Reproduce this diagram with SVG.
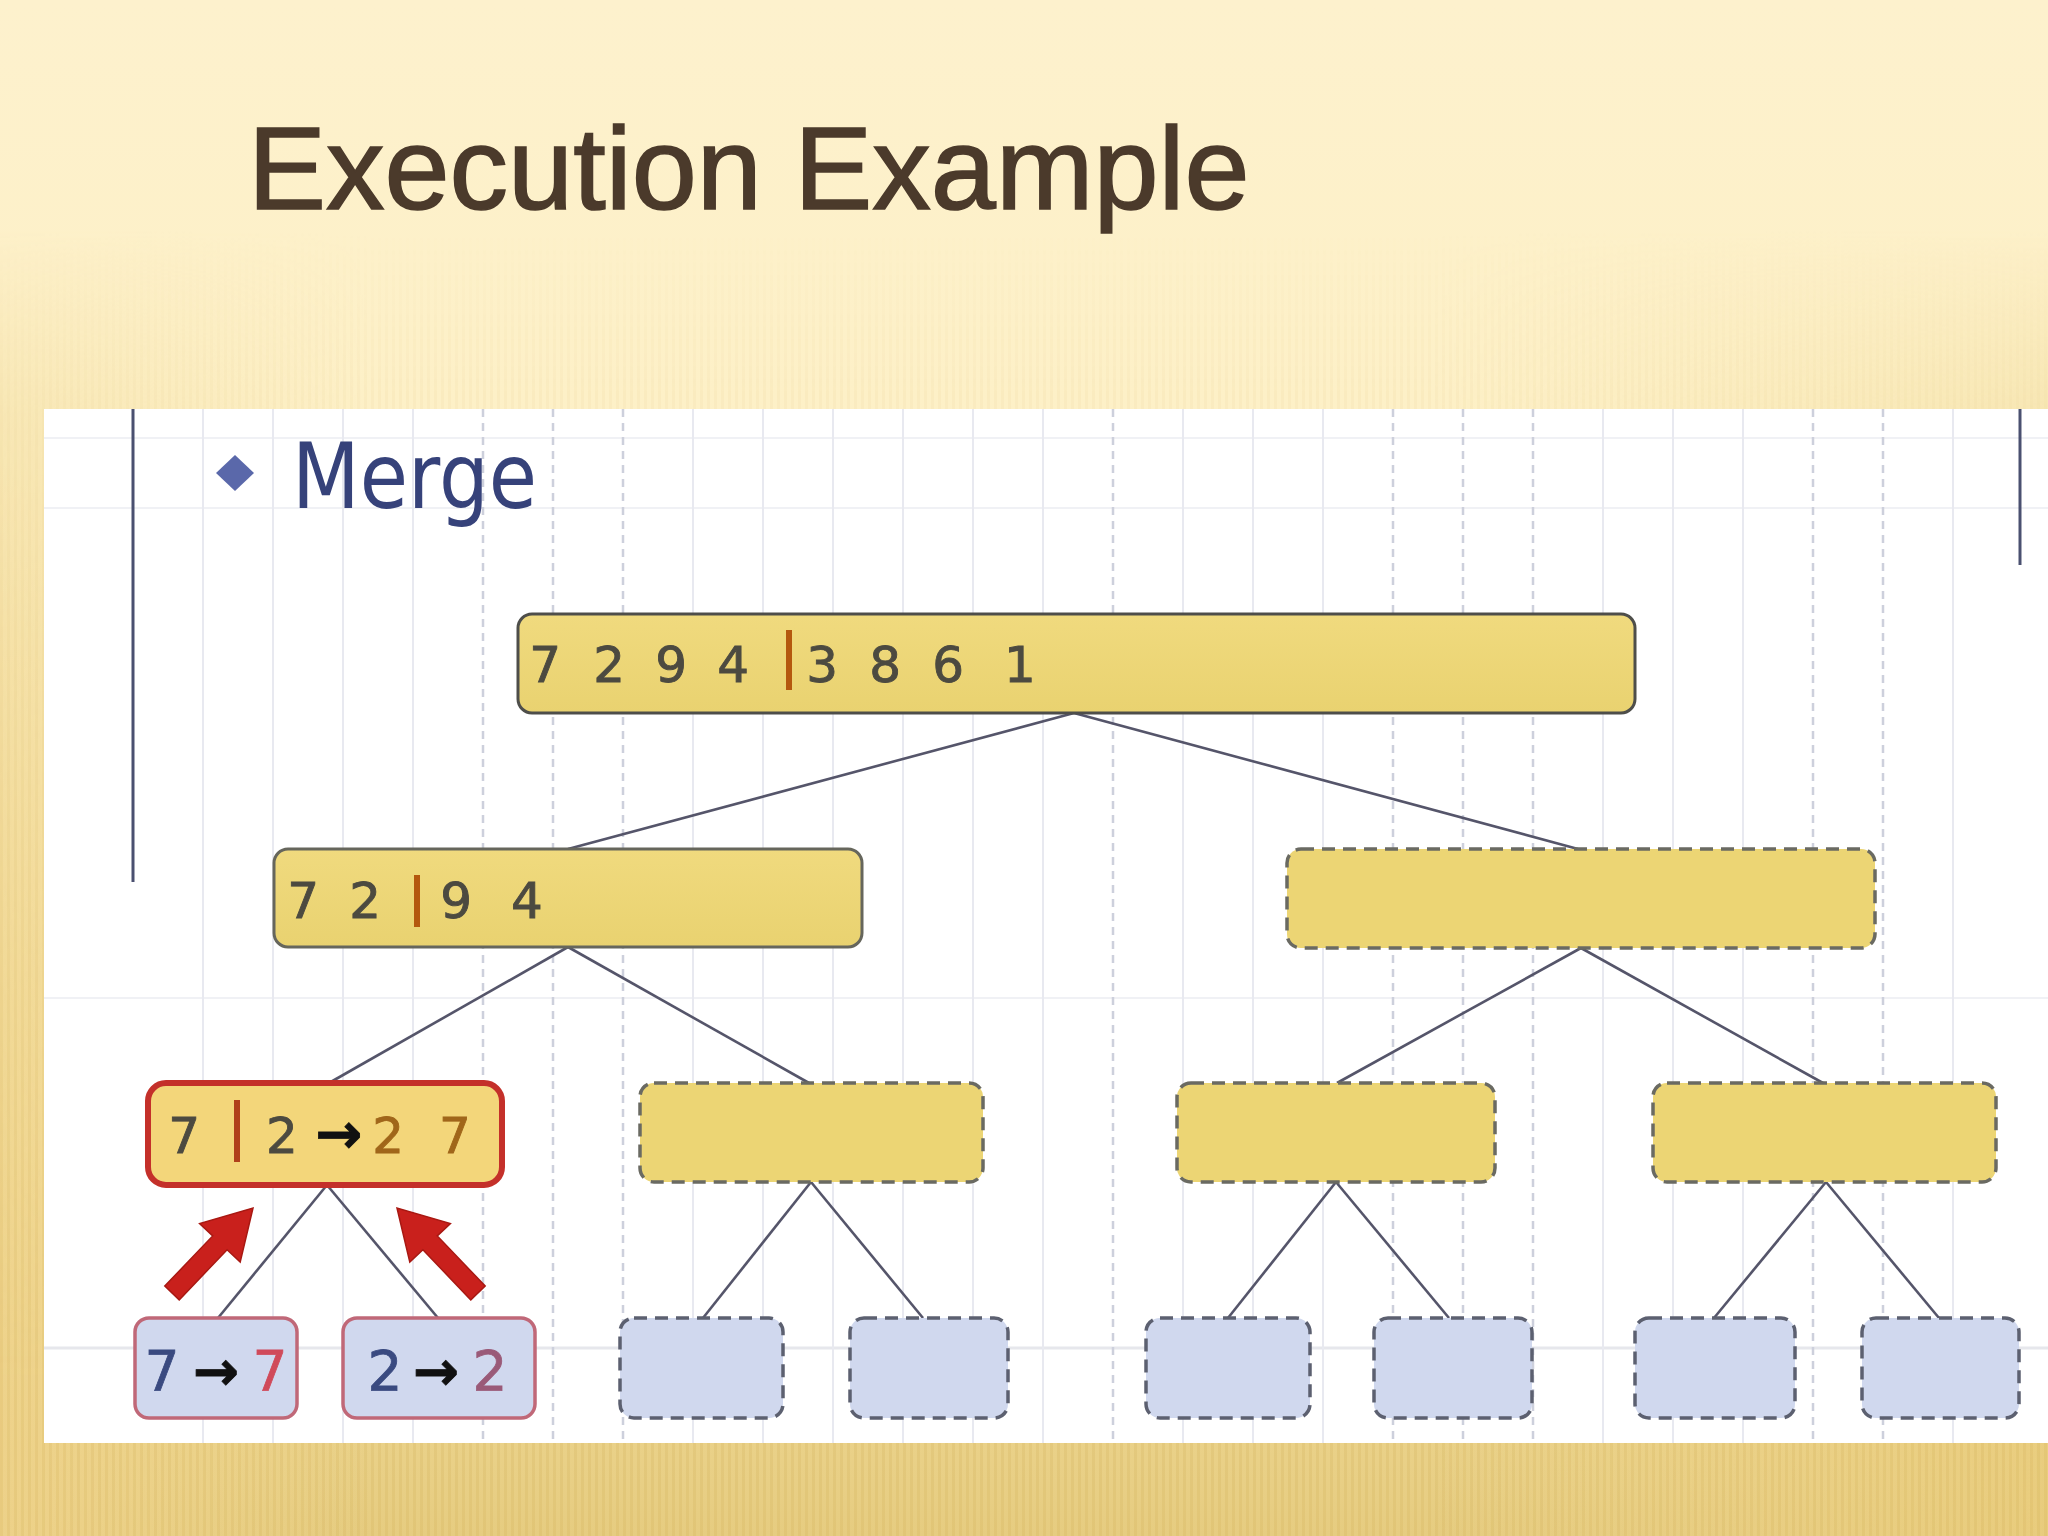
<svg xmlns="http://www.w3.org/2000/svg" width="2048" height="1536" viewBox="0 0 2048 1536">
<defs>
<linearGradient id="bg" x1="0" y1="0" x2="0" y2="1536" gradientUnits="userSpaceOnUse">
<stop offset="0" stop-color="#fdf1cd"/>
<stop offset="0.3" stop-color="#fdf0c6"/>
<stop offset="0.75" stop-color="#f5e1a2"/>
<stop offset="1" stop-color="#e6cc80"/>
</linearGradient>
<linearGradient id="side" x1="0" y1="0" x2="2048" y2="0" gradientUnits="userSpaceOnUse">
<stop offset="0" stop-color="#eed28a" stop-opacity="0.85"/>
<stop offset="0.18" stop-color="#f0d68e" stop-opacity="0"/>
<stop offset="0.7" stop-color="#f0d68e" stop-opacity="0"/>
<stop offset="1" stop-color="#e9cc7c" stop-opacity="0.75"/>
</linearGradient>
<linearGradient id="fadeV" x1="0" y1="0" x2="0" y2="1536" gradientUnits="userSpaceOnUse">
<stop offset="0.15" stop-color="#fff" stop-opacity="0"/>
<stop offset="0.27" stop-color="#fff" stop-opacity="0.35"/>
<stop offset="0.9" stop-color="#fff" stop-opacity="1"/>
</linearGradient>
<mask id="stripeMask" maskUnits="userSpaceOnUse" x="0" y="0" width="2048" height="1536"><rect x="0" y="0" width="2048" height="1536" fill="url(#fadeV)"/></mask>
<pattern id="stripes" width="7" height="20" patternUnits="userSpaceOnUse">
<rect x="0" y="0" width="3" height="20" fill="#c9a445" fill-opacity="0.16"/>
</pattern>
<linearGradient id="yel" x1="0" y1="0" x2="0" y2="1">
<stop offset="0" stop-color="#f0da7e"/>
<stop offset="1" stop-color="#e9d270"/>
</linearGradient>
<style>
.title{font-family:"Liberation Sans",Arial,sans-serif;font-size:117px;fill:#4b3a2b;stroke:#4b3a2b;stroke-width:1.6px}
.merge{font-family:"DejaVu Sans","Liberation Sans",sans-serif;font-size:90px;fill:#36427a}
.num{font-family:"DejaVu Sans","Liberation Sans",sans-serif;font-size:50px;fill:#4c4a40;stroke:#4c4a40;stroke-width:0.9px;text-anchor:middle}
.leafnum{font-family:"DejaVu Sans","Liberation Sans",sans-serif;font-size:55px;text-anchor:middle;stroke-width:0.8px}
.arr{fill:#111;stroke:#111;font-weight:bold}
.gs{stroke:#e8e9f0;stroke-width:2}
.gd{stroke:#cdd0dc;stroke-width:2.5;stroke-dasharray:8 6}
.gh{stroke:#f0f1f5;stroke-width:2}
.solidY{fill:url(#yel);stroke:#66665c;stroke-width:3}
.dashY{fill:#ecd574;stroke:#6a6a62;stroke-width:3.5;stroke-dasharray:13 8}
.dashB{fill:#d0d8ee;stroke:#5c6070;stroke-width:3.5;stroke-dasharray:13 8}
.leafR{fill:#d0d8ee;stroke:#c06878;stroke-width:3.5}
.hot{fill:#f3d67a;stroke:#c4302a;stroke-width:6}
.bar{fill:#b4580e}
.conn{stroke:#55556a;stroke-width:2.6;fill:none}
.bigarrow{fill:#c9201c;stroke:#a81812;stroke-width:1.5}
</style>
</defs>

<!-- background -->
<rect x="0" y="0" width="2048" height="1536" fill="url(#bg)"/>
<g mask="url(#stripeMask)">
<rect x="0" y="0" width="2048" height="1536" fill="url(#side)"/>
<rect x="0" y="0" width="2048" height="1536" fill="url(#stripes)"/>
</g>

<text class="title" x="248" y="209">Execution Example</text>

<!-- white panel -->
<g id="panel">
<rect x="44" y="409" width="2004" height="1034" fill="#ffffff"/>
<g id="grid">
<line class="gh" x1="44" y1="438" x2="2048" y2="438"/>
<line class="gh" x1="44" y1="508" x2="2048" y2="508"/>
<line class="gh" x1="44" y1="998" x2="2048" y2="998"/>
<line class="gh" x1="44" y1="1348" x2="2048" y2="1348" style="stroke:#e6e7ec;stroke-width:3"/>
<line class="gs" x1="203" y1="409" x2="203" y2="1443"/>
<line class="gs" x1="273" y1="409" x2="273" y2="1443"/>
<line class="gs" x1="343" y1="409" x2="343" y2="1443"/>
<line class="gs" x1="413" y1="409" x2="413" y2="1443"/>
<line class="gd" x1="483" y1="409" x2="483" y2="1443"/>
<line class="gd" x1="553" y1="409" x2="553" y2="1443"/>
<line class="gd" x1="623" y1="409" x2="623" y2="1443"/>
<line class="gs" x1="693" y1="409" x2="693" y2="1443"/>
<line class="gs" x1="763" y1="409" x2="763" y2="1443"/>
<line class="gs" x1="833" y1="409" x2="833" y2="1443"/>
<line class="gs" x1="903" y1="409" x2="903" y2="1443"/>
<line class="gs" x1="973" y1="409" x2="973" y2="1443"/>
<line class="gs" x1="1043" y1="409" x2="1043" y2="1443"/>
<line class="gd" x1="1113" y1="409" x2="1113" y2="1443"/>
<line class="gs" x1="1183" y1="409" x2="1183" y2="1443"/>
<line class="gs" x1="1253" y1="409" x2="1253" y2="1443"/>
<line class="gs" x1="1323" y1="409" x2="1323" y2="1443"/>
<line class="gd" x1="1393" y1="409" x2="1393" y2="1443"/>
<line class="gd" x1="1463" y1="409" x2="1463" y2="1443"/>
<line class="gd" x1="1533" y1="409" x2="1533" y2="1443"/>
<line class="gs" x1="1603" y1="409" x2="1603" y2="1443"/>
<line class="gs" x1="1673" y1="409" x2="1673" y2="1443"/>
<line class="gs" x1="1743" y1="409" x2="1743" y2="1443"/>
<line class="gd" x1="1813" y1="409" x2="1813" y2="1443"/>
<line class="gd" x1="1883" y1="409" x2="1883" y2="1443"/>
<line class="gs" x1="1953" y1="409" x2="1953" y2="1443"/>
</g>
<line x1="133" y1="409" x2="133" y2="882" stroke="#4a5070" stroke-width="3"/>
<line x1="2020" y1="409" x2="2020" y2="565" stroke="#4a5070" stroke-width="3"/>
<polygon points="235,455 254,473 235,491 216,473" fill="#5a68aa"/>
<text class="merge" x="292" y="508" textLength="245" lengthAdjust="spacingAndGlyphs">Merge</text>
</g>

<!-- connectors -->
<g id="connectors">
<line class="conn" x1="1074" y1="713" x2="568" y2="849"/>
<line class="conn" x1="1074" y1="713" x2="1578" y2="849"/>
<line class="conn" x1="568" y1="947" x2="329" y2="1083"/>
<line class="conn" x1="568" y1="947" x2="809" y2="1083"/>
<line class="conn" x1="1581" y1="948" x2="1337" y2="1083"/>
<line class="conn" x1="1581" y1="948" x2="1823" y2="1083"/>
<line class="conn" x1="327" y1="1185" x2="218" y2="1318"/>
<line class="conn" x1="327" y1="1185" x2="438" y2="1318"/>
<line class="conn" x1="811" y1="1182" x2="703" y2="1318"/>
<line class="conn" x1="811" y1="1182" x2="923" y2="1318"/>
<line class="conn" x1="1336" y1="1182" x2="1228" y2="1318"/>
<line class="conn" x1="1336" y1="1182" x2="1449" y2="1318"/>
<line class="conn" x1="1826" y1="1182" x2="1714" y2="1318"/>
<line class="conn" x1="1826" y1="1182" x2="1939" y2="1318"/>
</g>

<!-- level 1 -->
<g id="n-root">
<rect class="solidY" x="518" y="614" width="1117" height="99" rx="14" style="stroke:#4e4e4a"/>
<rect class="bar" x="786" y="630" width="6" height="60"/>
<text class="num" y="682"><tspan x="553">7</tspan> <tspan x="617">2</tspan> <tspan x="679">9</tspan> <tspan x="741">4</tspan> <tspan x="830">3</tspan> <tspan x="893">8</tspan> <tspan x="956">6</tspan> <tspan x="1020">1</tspan></text>
</g>

<!-- level 2 -->
<g id="n-l">
<rect class="solidY" x="274" y="849" width="588" height="98" rx="14"/>
<rect class="bar" x="414" y="875" width="6" height="52"/>
<text class="num" y="918"><tspan x="311">7</tspan> <tspan x="373">2</tspan> <tspan x="464">9</tspan> <tspan x="527">4</tspan></text>
</g>
<g id="n-r">
<rect class="dashY" x="1287" y="849" width="588" height="99" rx="14"/>
</g>

<!-- level 3 -->
<g id="n-ll">
<rect class="hot" x="148" y="1083" width="354" height="102" rx="18"/>
<rect class="bar" x="234" y="1100" width="6" height="62" style="fill:#b0401a"/>
<text class="num" y="1153"><tspan x="192">7</tspan> <tspan x="282">2</tspan><tspan x="339" class="arr" style="font-size:56px">→</tspan><tspan x="396" style="fill:#a0661a;stroke:#a0661a">2</tspan> <tspan x="455" style="fill:#a0661a;stroke:#a0661a">7</tspan></text>
</g>
<g id="n-lr"><rect class="dashY" x="640" y="1083" width="343" height="99" rx="14"/></g>
<g id="n-rl"><rect class="dashY" x="1177" y="1083" width="318" height="99" rx="14"/></g>
<g id="n-rr"><rect class="dashY" x="1653" y="1083" width="343" height="99" rx="14"/></g>

<!-- level 4 -->
<g id="leaf1">
<rect class="leafR" x="135" y="1318" width="162" height="100" rx="14"/>
<text class="leafnum" y="1390"><tspan x="162" style="fill:#3a4a80;stroke:#3a4a80">7</tspan><tspan x="216" class="arr">→</tspan><tspan x="270" style="fill:#d04a5a;stroke:#d04a5a">7</tspan></text>
</g>
<g id="leaf2">
<rect class="leafR" x="343" y="1318" width="192" height="100" rx="14"/>
<text class="leafnum" y="1390"><tspan x="385" style="fill:#3a4a80;stroke:#3a4a80">2</tspan><tspan x="436" class="arr">→</tspan><tspan x="490" style="fill:#9a5a78;stroke:#9a5a78">2</tspan></text>
</g>
<g id="leaf3"><rect class="dashB" x="620" y="1318" width="163" height="100" rx="14"/></g>
<g id="leaf4"><rect class="dashB" x="850" y="1318" width="158" height="100" rx="14"/></g>
<g id="leaf5"><rect class="dashB" x="1146" y="1318" width="164" height="100" rx="14"/></g>
<g id="leaf6"><rect class="dashB" x="1374" y="1318" width="158" height="100" rx="14"/></g>
<g id="leaf7"><rect class="dashB" x="1635" y="1318" width="160" height="100" rx="14"/></g>
<g id="leaf8"><rect class="dashB" x="1862" y="1318" width="157" height="100" rx="14"/></g>

<!-- red indicator arrows -->
<g id="red-arrows">
<polygon class="bigarrow" points="179.2,1299.9 227.1,1249.7 240.2,1262.1 253,1208 199.6,1223.5 212.7,1235.9 164.8,1286.1"/>
<polygon class="bigarrow" points="470.8,1299.9 422.9,1249.7 409.8,1262.1 397,1208 450.4,1223.5 437.3,1235.9 485.2,1286.1"/>
</g>
</svg>
